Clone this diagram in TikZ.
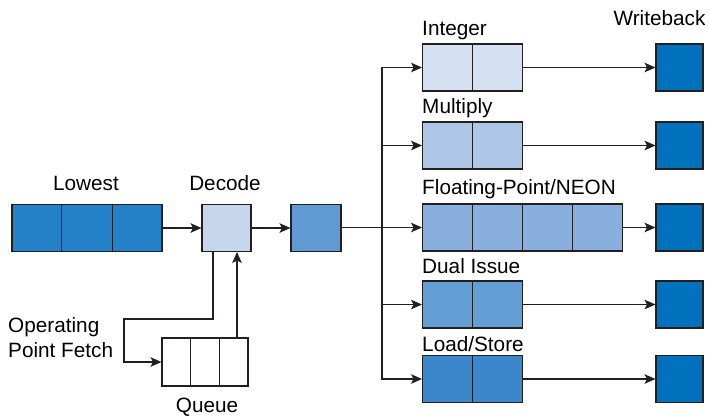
\documentclass[tikz,border=0pt]{standalone}
\usepackage{fontspec}
\setmainfont{Liberation Sans}
\usetikzlibrary{arrows.meta,calc}

\definecolor{cLowest}{HTML}{2381C8}
\definecolor{cDecode}{HTML}{C6D6EC}
\definecolor{cIssue}{HTML}{5F9AD2}
\definecolor{cInt}{HTML}{D4E1F2}
\definecolor{cMul}{HTML}{AEC7E7}
\definecolor{cFP}{HTML}{88AFDD}
\definecolor{cDual}{HTML}{639ED5}
\definecolor{cLS}{HTML}{3A88CB}
\definecolor{cWB}{HTML}{0071BC}
\definecolor{cLine}{HTML}{231F20}

\begin{document}
\begin{tikzpicture}[
    x=0.03cm, y=-0.03cm,
    font=\fontsize{17.7}{21.3}\selectfont,
    arrow/.style={draw=cLine, line width=0.9pt,
      -{Stealth[length=9.4pt,width=8.2pt,inset=2.2pt]}},
    stage/.style={
      draw=cLine,
      line width=0.9pt,
      minimum height=1.41cm,
      inner sep=0pt
    },
    cellbox/.style={stage, minimum width=#1*1.5cm},
    wbbox/.style={stage, fill=cWB, minimum width=1.41cm},
    lab/.style={inner sep=0pt, anchor=base}
  ]

  \path[use as bounding box] (0,0) rectangle (709,415);

  % Row anchors (pixels, y down)
  \def\yInt{67.5}
  \def\yMul{145.5}
  \def\yFP{227.5}
  \def\yDual{304.5}
  \def\yLS{379}

  % Column anchors
  \def\xUnit{422}
  \def\xWB{679.5}
  \def\xBus{382}

  % =====================================================
  % FRONT END
  % =====================================================
  \node[cellbox=3, fill=cLowest] (lowest) at (87,228) {};
  \node[cellbox=1, fill=cDecode, minimum width=1.47cm] (decode) at (226.5,228) {};
  \node[cellbox=1, fill=cIssue] (issue) at (316,228) {};

  \node[stage, minimum width=2.58cm, minimum height=1.44cm] (queue) at (205,362) {};

  \node[lab] (tLowest) at (86,190) {Lowest};
  \node[lab] (tDecode) at (225,190) {Decode};
  \node[lab] (tQueue) at (207,412) {Queue};
  \node[lab, anchor=base west, align=left] (tFetch) at (8,357)
    {Operating\\Point Fetch};

  % =====================================================
  % EXECUTION UNITS
  % =====================================================
  \node[cellbox=2, fill=cInt, anchor=west] (intg) at (\xUnit,\yInt) {};
  \node[cellbox=2, fill=cMul, anchor=west] (mult) at (\xUnit,\yMul) {};
  \node[cellbox=4, fill=cFP, anchor=west] (fp) at (\xUnit,\yFP) {};
  \node[cellbox=2, fill=cDual, anchor=west] (dual) at (\xUnit,\yDual) {};
  \node[cellbox=2, fill=cLS, anchor=west] (ldst) at (\xUnit,\yLS) {};

  \node[lab, anchor=base west] (tInt) at (\xUnit,35) {Integer};
  \node[lab, anchor=base west] (tMul) at (\xUnit,113) {Multiply};
  \node[lab, anchor=base west] (tFP) at (\xUnit,194) {Floating-Point/NEON};
  \node[lab, anchor=base west] (tDual) at (\xUnit,273) {Dual Issue};
  \node[lab, anchor=base west] (tLS) at (\xUnit,351) {Load/Store};

  % Writeback
  \node[wbbox] (wb1) at (\xWB,\yInt) {};
  \node[wbbox] (wb2) at (\xWB,\yMul) {};
  \node[wbbox] (wb3) at (\xWB,\yFP) {};
  \node[wbbox] (wb4) at (\xWB,\yDual) {};
  \node[wbbox] (wb5) at (\xWB,\yLS) {};
  \node[lab] (tWB) at (659.5,25) {Writeback};

  % =====================================================
  % CELL DIVIDERS
  % =====================================================
  \foreach \n/\k in {lowest/3,queue/3,intg/2,mult/2,fp/4,dual/2,ldst/2}{
    \pgfmathtruncatemacro{\last}{\k-1}
    \foreach \i in {1,...,\last}{
      \draw[cLine, line width=0.9pt]
      ($(\n.north west)!\i/\k!(\n.north east)$) --
      ($(\n.south west)!\i/\k!(\n.south east)$);
    }
  }

  % =====================================================
  % ARROWS
  % =====================================================
  \draw[arrow] (lowest) -- (decode);
  \draw[arrow] (decode) -- (issue);

  \coordinate (bus) at (\xBus,\yFP);
  \draw[arrow] (issue.east |- bus) -- (fp.west);
  \draw[arrow] (bus) |- (intg.west);
  \draw[arrow] (bus) |- (mult.west);
  \draw[arrow] (bus) |- (dual.west);
  \draw[arrow] (bus) |- (ldst.west);

  \draw[arrow] (intg) -- (wb1);
  \draw[arrow] (mult) -- (wb2);
  \draw[arrow] (fp) -- (wb3);
  \draw[arrow] (dual) -- (wb4);
  \draw[arrow] (ldst) -- (wb5);

  % fetch loop
  \coordinate (fbA) at (213,319);
  \coordinate (fbB) at (124,319);
  \coordinate (qUp) at (237,0);
  \draw[arrow] (decode.south -| fbA) -- (fbA) -- (fbB) |- (queue.west);
  \draw[arrow] (queue.north -| qUp) -- (decode.south -| qUp);

\end{tikzpicture}
\end{document}
